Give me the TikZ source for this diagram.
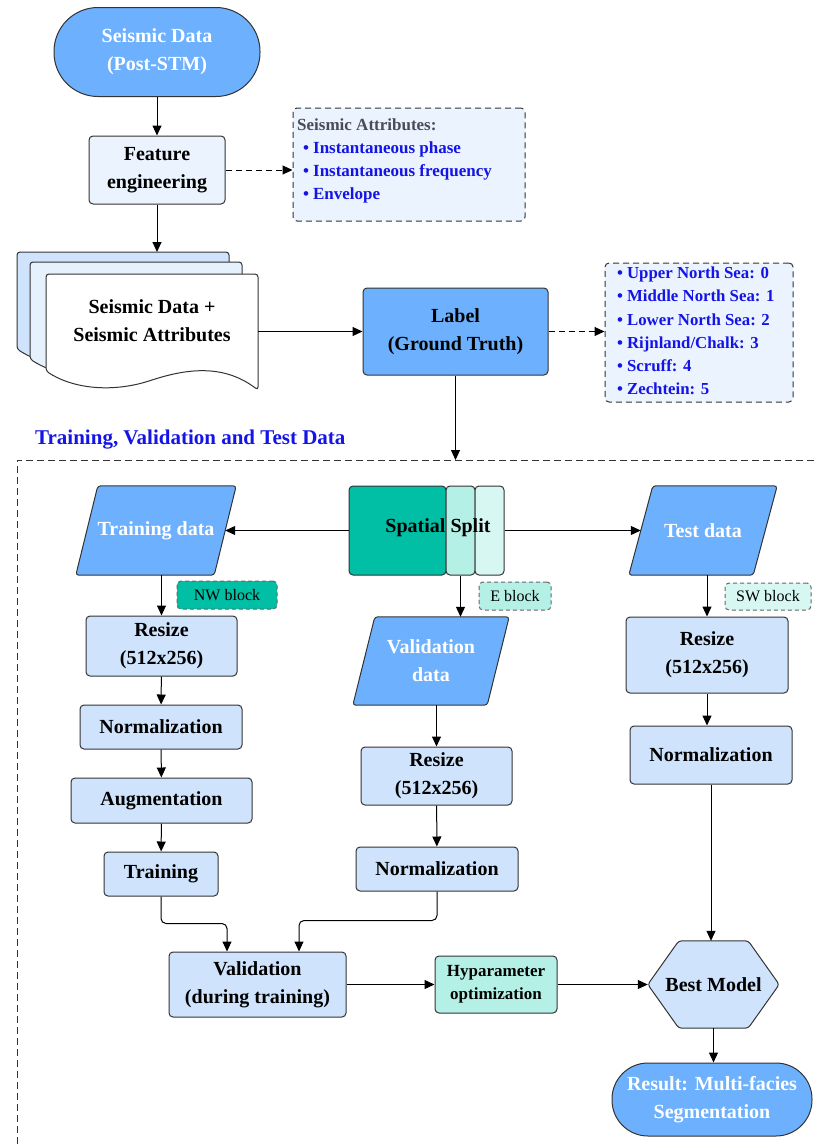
\documentclass[tikz,border=0pt]{standalone}
\usepackage{fontspec}
\setmainfont{Liberation Serif}
\usetikzlibrary{arrows.meta,backgrounds}
\definecolor{bmain}{HTML}{6DB1FE}
\definecolor{blight}{HTML}{CFE4FC}
\definecolor{bpale}{HTML}{EAF3FE}
\definecolor{bpaleB}{HTML}{E6F1FE}
\definecolor{tealA}{HTML}{00BFA5}
\definecolor{tealB}{HTML}{B5F0E6}
\definecolor{tealC}{HTML}{D6F7F2}
\definecolor{txtblue}{HTML}{1414E6}
\definecolor{ttlgray}{HTML}{4A4A5A}
\definecolor{edge}{HTML}{333333}
\newcommand{\docshape}{[rounded corners=3pt] (46,371) -- (46,274) -- (258,274) -- (258,390) .. controls (225,365) and (190,368) .. (152,380) .. controls (115,392) and (75,390) .. (46,371) -- cycle}
\begin{document}
\begin{tikzpicture}[x=1pt,y=-1pt,
  mainfont/.style={font=\fontsize{20}{28}\selectfont\bfseries},
  box/.style={draw=edge, line width=1pt, rounded corners=4pt, inner sep=0pt, align=center, mainfont},
  lbox/.style={box, fill=blight},
  plain/.style={inner sep=0pt, align=center, mainfont},
  para/.style={draw=edge, line width=1pt, fill=bmain, rounded corners=3pt},
  blk/.style={draw=edge!75, line width=1pt, dash pattern=on 4pt off 3pt, rounded corners=4pt, inner sep=0pt, font=\fontsize{16}{20}\selectfont},
  arr/.style={-{Triangle[length=10pt,width=9pt]}, line width=1pt, draw=black},
  darr/.style={arr, dash pattern=on 6pt off 4pt},
  frame/.style={draw=edge, line width=1pt, dash pattern=on 7pt off 4pt},
  docline/.style={draw=edge, line width=1pt}
]
\useasboundingbox (0,0) rectangle (814,1146);

% ---------- top part ----------
\node[box, fill=bmain, text=white, rounded corners=44pt, minimum width=206pt, minimum height=89pt] (src) at (157,52) {Seismic Data\\(Post-STM)};
\node[box, fill=bpale, minimum width=136pt, minimum height=68pt] (feat) at (157,170) {Feature\\engineering};
\node[box, fill=bpale, dash pattern=on 6pt off 4pt, minimum width=232pt, minimum height=113pt] (attr) at (409,164.5) {};
\node[anchor=north west, inner sep=0pt, align=left, font=\fontsize{17}{23}\selectfont\bfseries, text=txtblue] (attrtxt) at (297,119)
 {\textcolor{ttlgray}{Seismic Attributes:}\\
  \hspace*{6pt}\textbullet\hspace{4pt}Instantaneous phase\\
  \hspace*{6pt}\textbullet\hspace{4pt}Instantaneous frequency\\
  \hspace*{6pt}\textbullet\hspace{4pt}Envelope};
\draw[arr] (src) -- (feat);
\draw[darr] (feat.east) -- (feat.east -| attr.west);

% stacked documents
\begin{scope}[shift={(-29,-22)}]
  \filldraw[docline, fill=blight] \docshape;
\end{scope}
\begin{scope}[shift={(-16,-12)}]
  \filldraw[docline, fill=bpaleB] \docshape;
\end{scope}
\filldraw[docline, fill=white] \docshape;
\node[plain, minimum width=212pt, minimum height=98pt] (docs) at (152,321) {Seismic Data +\\Seismic Attributes};
\coordinate (stacktop) at (157,252);
\draw[arr] (feat.south) -- (stacktop);

\node[box, fill=bmain, minimum width=185pt, minimum height=87pt] (label) at (455.5,331.5) {Label\\(Ground Truth)};
\draw[arr] (docs.east |- label.west) -- (label.west);
\node[box, fill=bpale, dash pattern=on 6pt off 4pt, minimum width=188pt, minimum height=139pt] (cls) at (699,332.5) {};
\node[anchor=north west, inner sep=0pt, align=left, font=\fontsize{16.8}{23.1}\selectfont\bfseries, text=txtblue] (clstxt) at (617,267)
 {\textbullet\hspace{4pt}Upper North Sea: 0\\
  \textbullet\hspace{4pt}Middle North Sea: 1\\
  \textbullet\hspace{4pt}Lower North Sea: 2\\
  \textbullet\hspace{4pt}Rijnland/Chalk: 3\\
  \textbullet\hspace{4pt}Scruff: 4\\
  \textbullet\hspace{4pt}Zechtein: 5};
\draw[darr] (label.east) -- (label.east -| cls.west);

\coordinate (ftop) at (455.5,460);
\draw[arr] (label.south) -- (ftop);
\node[anchor=west, inner sep=0pt, text=txtblue, font=\fontsize{21}{28}\selectfont\bfseries] (sec) at (35,440) {Training, Validation and Test Data};
\draw[frame] (814,460) -- (17,460) -- (17,1146);

% ---------- split ----------
\node[plain, text=white, minimum width=160pt, minimum height=89pt] (trdata) at (156,530.5) {Training data};
\node[plain, text=white, minimum width=148pt, minimum height=89pt] (test) at (703,530.5) {Test data};
\node[plain, text=white, minimum width=156pt, minimum height=88pt] (valdata) at (431,661) {Validation\\data};
\begin{scope}[on background layer]
  \filldraw[para] ([xshift=22pt]trdata.north west) -- (trdata.north east) -- ([xshift=-22pt]trdata.south east) -- (trdata.south west) -- cycle;
  \filldraw[para] ([xshift=24pt]test.north west) -- (test.north east) -- ([xshift=-24pt]test.south east) -- (test.south west) -- cycle;
  \filldraw[para] ([xshift=22pt]valdata.north west) -- (valdata.north east) -- ([xshift=-22pt]valdata.south east) -- (valdata.south west) -- cycle;
\end{scope}

\node[box, fill=tealA, minimum width=97pt, minimum height=89pt] (splitA) at (397.5,530.5) {};
\node[box, fill=tealB, minimum width=29pt, minimum height=89pt] (splitB) at (460.5,530.5) {};
\node[box, fill=tealC, minimum width=29pt, minimum height=89pt] (splitC) at (489.5,530.5) {};
\node[plain] (splittxt) at (438,528) {Spatial Split};
\draw[arr] (splitA.west) -- ([xshift=-11pt]trdata.east);
\draw[arr] (splitC.east) -- ([xshift=12pt]test.west);

\node[blk, fill=tealA, minimum width=100pt, minimum height=28pt] (nw) at (227,595) {NW block};
\node[blk, fill=tealB, minimum width=72pt, minimum height=28pt] (eb) at (515,596) {E block};
\node[blk, fill=tealC, minimum width=86pt, minimum height=27pt] (sw) at (768,596.5) {SW block};

% ---------- left column ----------
\node[lbox, minimum width=151pt, minimum height=60pt] (resizeL) at (161.5,646) {Resize\\(512x256)};
\node[lbox, minimum width=162pt, minimum height=44pt] (normL) at (161,727) {Normalization};
\node[lbox, minimum width=181pt, minimum height=45pt] (aug) at (161.5,800.5) {Augmentation};
\node[lbox, minimum width=114pt, minimum height=44pt] (train) at (161,874) {Training};
\draw[arr] (resizeL.north |- trdata.south) -- (resizeL.north);
\draw[arr] (resizeL) -- (normL);
\draw[arr] (normL) -- (aug);
\draw[arr] (aug) -- (train);

% ---------- middle column ----------
\node[lbox, minimum width=151pt, minimum height=58pt] (resizeM) at (436.5,776) {Resize\\(512x256)};
\node[lbox, minimum width=162pt, minimum height=44pt] (normM) at (437,869) {Normalization};
\draw[arr] (splitB.south) -- (splitB.south |- valdata.north);
\draw[arr] (resizeM.north |- valdata.south) -- (resizeM.north);
\draw[arr] (resizeM) -- (normM);

% ---------- right column ----------
\node[lbox, minimum width=162pt, minimum height=76pt] (resizeR) at (707,655) {Resize\\(512x256)};
\node[lbox, minimum width=162pt, minimum height=58pt] (normR) at (711,755) {Normalization};
\draw[arr] (resizeR.north |- test.south) -- (resizeR.north);
\draw[arr] (resizeR.south) -- (resizeR.south |- normR.north);

% ---------- bottom ----------
\node[lbox, minimum width=177pt, minimum height=65pt] (val) at (257.5,984.5) {Validation\\(during training)};
\node[box, fill=tealB, font=\fontsize{17}{23}\selectfont\bfseries, minimum width=122pt, minimum height=57pt] (hyp) at (496,984.5) {Hyparameter\\optimization};
\node[plain, minimum width=131pt, minimum height=87pt] (best) at (713.5,984.5) {Best Model};
\begin{scope}[on background layer]
  \filldraw[draw=edge, line width=1pt, fill=blight, rounded corners=3pt] (best.west) -- ([xshift=31pt]best.north west) -- ([xshift=-31pt]best.north east) -- (best.east) -- ([xshift=-31pt]best.south east) -- ([xshift=31pt]best.south west) -- cycle;
\end{scope}
\node[box, fill=bmain, text=white, rounded corners=36pt, minimum width=200pt, minimum height=73pt] (res) at (712,1099.5) {Result: Multi-facies\\Segmentation};

\draw[arr, rounded corners=5pt] (train.south) -- ++(0,27) -| ([xshift=-30.5pt]val.north);
\draw[arr, rounded corners=5pt] (normM.south) -- ++(0,29) -| ([xshift=41.5pt]val.north);
\draw[arr] (val.east) -- (hyp.west);
\draw[arr] (hyp.east) -- (best.west);
\draw[arr] (normR.south) -- (normR.south |- best.north);
\draw[arr] (best.south) -- (best.south |- res.north);
\end{tikzpicture}
\end{document}
